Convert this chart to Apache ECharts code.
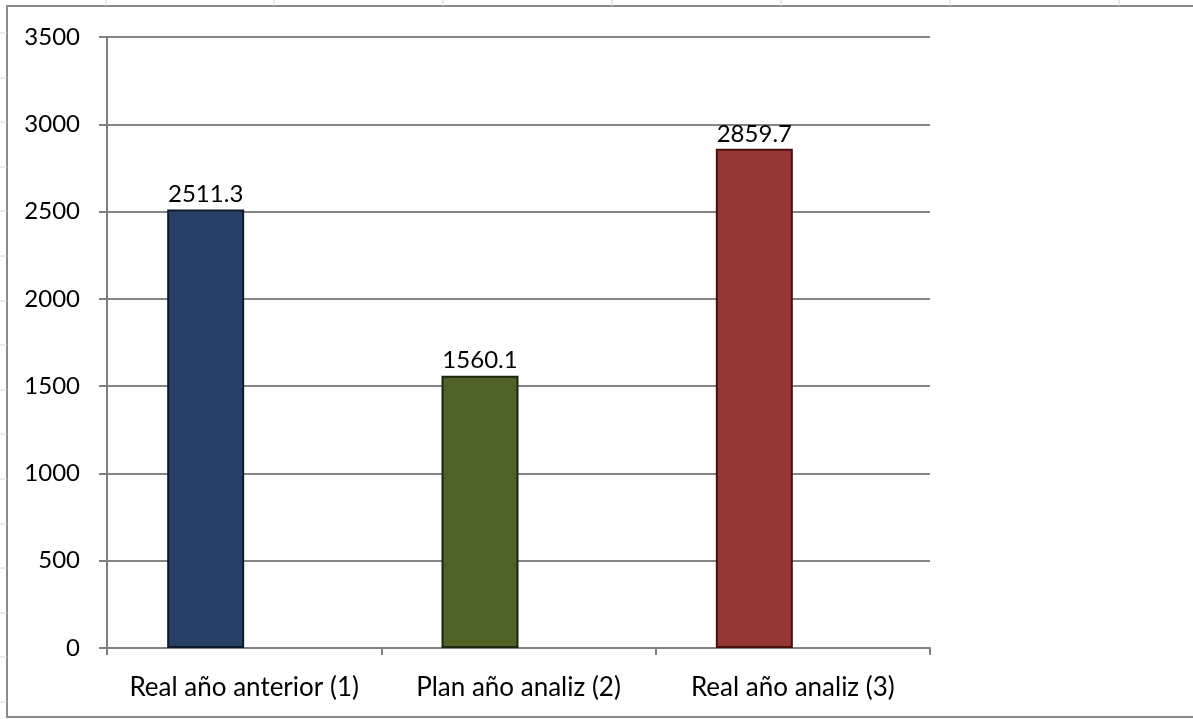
<!DOCTYPE html>
<html>
<head>
<meta charset="utf-8">
<script src="https://cdn.jsdelivr.net/npm/echarts@6/dist/echarts.min.js"></script>
<style>
html,body{margin:0;padding:0;background:#fff;}
#chart{width:1193px;height:719px;}
</style>
</head>
<body>
<div id="chart"></div>
<script>
var categories = ['Real año anterior (1)', 'Plan año analiz (2)', 'Real año analiz (3)'];
var values = [2511.3, 1560.1, 2859.7];
var barColors = ['#264066', '#4f6228', '#953735'];
var barBorders = ['#0e1a2c', '#1c2610', '#4a1010'];
var yMin = 0, yMax = 3500, yStep = 500;

var FONT = 'Lato';

var chart = echarts.init(document.getElementById('chart'), null, {renderer: 'canvas'});

var frameGraphics = [
  {type: 'rect', shape: {x: 7, y: 6, width: 1200, height: 711}, style: {fill: 'none', stroke: '#8a8a8a', lineWidth: 2}, silent: true}
];
[106, 274, 443, 612, 781, 950, 1119].forEach(function (x) {
  frameGraphics.push({type: 'line', shape: {x1: x, y1: 0, x2: x, y2: 6}, style: {stroke: '#d0d0d0', lineWidth: 1}, silent: true});
});
for (var yy = 33; yy < 719; yy += 44.6) {
  frameGraphics.push({type: 'line', shape: {x1: 0, y1: Math.round(yy), x2: 7, y2: Math.round(yy)}, style: {stroke: '#d8d8d8', lineWidth: 1}, silent: true});
}

var option = {
  animation: false,
  backgroundColor: '#ffffff',
  graphic: frameGraphics,
  grid: {left: 107, right: 263, top: 37, bottom: 71, containLabel: false},
  xAxis: {
    type: 'category',
    data: categories,
    axisLine: {show: true, lineStyle: {color: '#808080', width: 2}},
    axisTick: {show: true, length: 7, lineStyle: {color: '#808080', width: 2}},
    axisLabel: {color: '#000', fontFamily: FONT, fontSize: 26, margin: 27, interval: 0}
  },
  yAxis: {
    type: 'value',
    min: yMin, max: yMax, interval: yStep,
    axisLine: {show: true, lineStyle: {color: '#808080', width: 2}},
    axisTick: {show: true, length: 8, lineStyle: {color: '#808080', width: 2}},
    splitLine: {show: true, lineStyle: {color: '#858585', width: 2}},
    axisLabel: {color: '#000', fontFamily: FONT, fontSize: 24, margin: 27, formatter: function (v) { return String(v); }}
  },
  series: [
    {
      type: 'bar',
      barWidth: 77,
      barGap: '0%',
      data: values.map(function (v, i) {
        return {value: v, itemStyle: {color: barColors[i], borderColor: barBorders[i], borderWidth: 2}};
      }),
      label: {
        show: true, position: 'top', distance: 3,
        color: '#000', fontFamily: FONT, fontSize: 24,
        formatter: function (p) { return p.value.toFixed(1); }
      }
    },
    {
      type: 'bar',
      barWidth: 77,
      data: categories.map(function () { return null; })
    }
  ]
};
chart.setOption(option);
</script>
</body>
</html>
